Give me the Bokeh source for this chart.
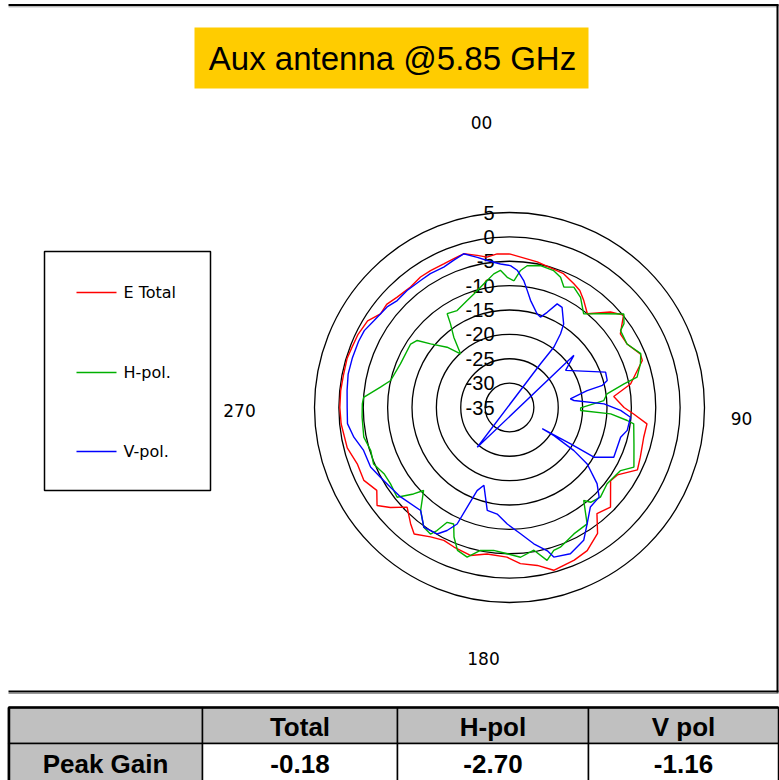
import numpy as np
from bokeh.plotting import figure
from bokeh.models import Range1d
from bokeh.core.properties import value
from bokeh.embed import file_html
from bokeh.resources import INLINE

# ---------------- data ----------------
title_text = "Aux antenna @5.85 GHz"
series_names = ["E Total", "H-pol.", "V-pol."]
ring_values = [5, 0, -5, -10, -15, -20, -25, -30, -35]
compass_labels = ["00", "90", "180", "270"]
compass_angles = [0, 90, 180, 270]

etotal_angle = [0, 10.8, 22, 27.5, 31, 34.8, 39.7, 46.6, 51, 56.4, 61.6, 67.7, 70.5, 79, 84, 90, 93, 96.8,
                102.5, 110.8, 116, 122, 125.9, 134.6, 140.5, 145, 151.5, 157, 164.8, 170, 176, 181, 188.7,
                194.8, 201.7, 206.3, 211.4, 217, 220.4, 225.8, 230, 233.5, 238, 243.4, 249.7, 256, 264.5,
                270, 275.6, 281, 286.9, 290.8, 295.8, 301.4, 306, 310, 314.5, 320.6, 325.7, 330, 335.4,
                339.5, 343.4, 348, 351.5, 355.4]
etotal_db = [-3.5, -4.6, -5.4, -6.4, -7.0, -8.3, -10.0, -6.5, -4.9, -7.7, -7.6, -6.0, -6.1, -9.7, -13.5, -11.5,
             -9.5, -6.6, -6.8, -6.3, -5.8, -8.9, -9.4, -5.9, -6.8, -3.5, -1.6, -1.0, -0.4, -2.1, -2.9, -4.3,
             -4.6, -3.6, -4.2, -4.6, -3.9, -2.5, -3.7, -5.7, -3.1, -1.2, -2.9, -1.6, -1.7, -0.7, -0.3, -0.2,
             -0.2, -0.3, -0.2, -0.4, -0.5, -0.9, -2.3, -2.1, -2.7, -3.0, -2.6, -2.6, -2.6, -2.4, -2.1, -3.1,
             -3.8, -3.4]

hpol_angle = [2, 4.6, 7.1, 12.3, 17.9, 21.4, 24.3, 28.1, 32.8, 38.4, 45.2, 50.7, 53.8, 55.3, 61.6, 67.7,
              71.6, 76.6, 78.3, 82, 85.8, 90.3, 92.4, 93.6, 96.3, 97.5, 106.3, 115.6, 119.6, 128, 134.6,
              139.4, 141.4, 146.3, 153, 160, 162.8, 166.2, 170.3, 175.8, 180.9, 186.3, 191.5, 195.8, 200,
              203.2, 205.6, 208.5, 210.5, 212, 215.6, 220.8, 226, 228, 231.4, 237.3, 242.2, 247.4, 252.8,
              258.5, 266.2, 271.4, 274, 279, 282.8, 291.8, 302.7, 306, 308.9, 314, 317.6, 321.6, 324.8,
              326.4, 331.6, 338.4, 342.6, 348.3, 353.3, 356.2, 359]
hpol_db = [-9.0, -6.8, -5.7, -5.2, -5.5, -6.3, -7.9, -7.0, -8.1, -10.5, -7.7, -4.7, -5.9, -7.3, -7.6, -5.9,
           -6.7, -8.1, -11.0, -14.8, -15.6, -20.4, -20.4, -14.2, -10.7, -9.3, -8.4, -6.7, -8.8, -9.6, -8.8,
           -9.4, -10.6, -6.3, -5.9, -4.5, -4.3, -2.7, -5.3, -4.2, -5.0, -5.5, -5.1, -3.1, -3.8, -6.1, -8.5,
           -8.2, -5.7, -4.4, -4.8, -7.1, -10.5, -8.5, -5.5, -6.0, -5.9, -4.8, -5.2, -4.5, -4.7, -4.8, -5.0,
           -8.2, -10.0, -10.9, -10.9, -11.6, -14.2, -17.2, -20.1, -16.6, -14.0, -11.9, -12.4, -11.4, -10.6,
           -9.1, -7.4, -6.8, -8.3]

vpol_angle = [0.4, 3.2, 6.4, 8.6, 11.1, 16.5, 18.9, 21.6, 24.7, 27.7, 33, 34.7, 36.3, 35.4, 39, 51, 56.5,
              69.8, 74.5, 76.6, 77.7, 81.9, 83.8, 87.8, 91.5, 94.6, 101, 105, 115.5, 120.5, 120.8, 123,
              122.3, 123.8, 126, 131, 135, 140.9, 146.3, 150.8, 157.4, 163.5, 165.2, 169.9, 175, 181.1,
              186.6, 192.2, 198.2, 201.3, 203, 204.2, 206.9, 209.8, 215.6, 220.8, 230.6, 236.2, 241.6,
              246.8, 253.6, 259.2, 264.3, 270, 276, 281.7, 287.6, 293.7, 297.9, 302.7, 309.4, 313.6, 318.8,
              325, 329.4, 334.9, 339.3, 343.4, 347.9, 351.4, 356.4]
vpol_db = [-5.9, -6.8, -8.8, -10.7, -12.6, -15.0, -15.4, -14.0, -11.6, -11.8, -14.6, -16.6, -19.6, -24.0,
           -45.5, -18.0, -21.2, -14.0, -14.2, -15.4, -18.7, -22.4, -21.7, -15.6, -12.2, -10.1, -10.4, -11.4,
           -11.3, -14.9, -20.4, -27.0, -24.2, -19.1, -15.3, -11.2, -9.0, -8.7, -6.3, -3.8, -2.5, -3.0, -4.6,
           -6.6, -9.0, -11.1, -13.0, -13.4, -18.2, -16.7, -12.8, -8.8, -6.7, -5.1, -4.8, -7.1, -6.1, -5.6,
           -4.9, -4.0, -3.8, -2.5, -1.6, -1.7, -1.5, -1.2, -1.2, -1.2, -1.3, -2.0, -2.5, -3.2, -3.1, -3.2,
           -3.1, -3.2, -2.7, -2.1, -3.5, -4.5, -5.5]

table_header = ["", "Total", "H-pol", "V pol"]
table_row_label = "Peak Gain"
peak_gain = ["-0.18", "-2.70", "-1.16"]

colors = ["#FF0000", "#00B000", "#0000FF"]

# ---------------- layout (pixel space) ----------------
W, H = 779, 780
p = figure(width=W, height=H, x_range=Range1d(0, W), y_range=Range1d(H, 0),
           output_backend="svg", toolbar_location=None, min_border=0)
p.axis.visible = False
p.grid.visible = False
p.outline_line_color = None
p.background_fill_color = "white"

CX, CY = 509.0, 407.0
R_MIN, R_MAX = -35.0, 5.0
K = 195.0 / (R_MAX - R_MIN)


def to_xy(ang, db):
    a = np.radians(np.asarray(ang, dtype=float))
    r = (np.asarray(db, dtype=float) - R_MIN) * K
    return CX + r * np.sin(a), CY - r * np.cos(a)


# frame of chart area
p.line([8, 778], [4.5, 4.5], line_color="black", line_width=2)
p.line([8, 778], [6.3, 6.3], line_color="#999999", line_width=1)
p.line([777, 777], [4, 692], line_color="black", line_width=2)
p.line([8, 778], [691, 691], line_color="black", line_width=2)
p.line([8, 778], [693, 693], line_color="#999999", line_width=1)

# title
p.quad(left=[194], right=[588], top=[27], bottom=[88], fill_color="#FFCC00", line_color=None)
p.text(x=[392], y=[58], text=[title_text], text_font=value("Liberation Sans"),
       text_font_size="33px", text_align="center", text_baseline="middle", text_color="black")

# rings
for v in ring_values[:-1]:
    p.circle(x=CX, y=CY, radius=(v - R_MIN) * K, fill_color=None, line_color="black", line_width=1.3)

# ring labels
ry = [CY - (v - R_MIN) * K for v in ring_values]
p.text(x=[CX - 15] * len(ring_values), y=ry, text=[str(v) for v in ring_values],
       text_font=value("Liberation Sans"), text_font_size="20px", text_align="right",
       text_baseline="middle", text_color="black")

# compass labels
cl_x = [481, 741, 483, 239]
cl_y = [122, 418, 658, 410]
p.text(x=cl_x, y=cl_y, text=compass_labels, text_font=value("DejaVu Sans"), text_font_size="17px",
       text_align="center", text_baseline="middle", text_color="black")

# curves
for ang, db, c in [(etotal_angle, etotal_db, colors[0]), (hpol_angle, hpol_db, colors[1]),
                   (vpol_angle, vpol_db, colors[2])]:
    xs, ys = to_xy(list(ang) + [ang[0]], list(db) + [db[0]])
    p.line(xs, ys, line_color=c, line_width=1.4)

# legend
p.quad(left=[44], right=[210], top=[251], bottom=[490], fill_color="white", line_color="black", line_width=1.5)
leg_y = [292, 372, 451]
for yy, c in zip(leg_y, colors):
    p.line([76, 116], [yy, yy], line_color=c, line_width=1.5)
p.text(x=[123] * 3, y=leg_y, text=series_names, text_font=value("DejaVu Sans"), text_font_size="16px",
       text_align="left", text_baseline="middle", text_color="black")

# table
col_edges = [8, 202, 397, 588, 778]
row_edges = [707, 743, 782]
p.quad(left=col_edges[:-1], right=col_edges[1:], top=[row_edges[0]] * 4, bottom=[row_edges[1]] * 4,
       fill_color="#C0C0C0", line_color="black", line_width=1.5)
p.quad(left=col_edges[:-1], right=col_edges[1:], top=[row_edges[1]] * 4, bottom=[row_edges[2]] * 4,
       fill_color=["#C0C0C0", "white", "white", "white"], line_color="black", line_width=1.5)
p.line([8.5, 8.5], [707, 782], line_color="black", line_width=2.5)
p.line([8, 778], [707, 707], line_color="black", line_width=2.5)
cx_cells = [(col_edges[i] + col_edges[i + 1]) / 2 for i in range(4)]
p.text(x=cx_cells, y=[726] * 4, text=table_header, text_font=value("Liberation Sans"),
       text_font_style="bold", text_font_size="26px", text_align="center", text_baseline="middle",
       text_color="black")
p.text(x=cx_cells, y=[763] * 4, text=[table_row_label] + peak_gain, text_font=value("Liberation Sans"),
       text_font_style="bold", text_font_size="26px", text_align="center", text_baseline="middle",
       text_color="black")

open("out.html", "w").write(file_html(p, INLINE))
